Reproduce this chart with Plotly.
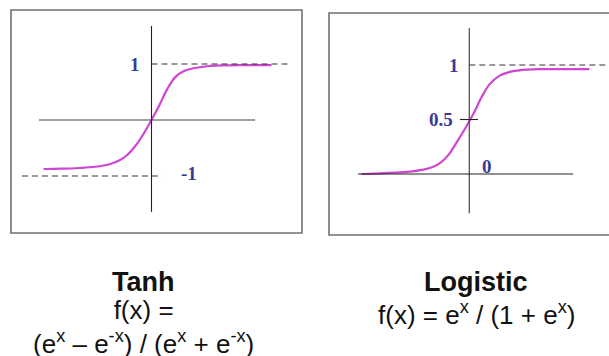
import plotly.graph_objects as go

W, H = 609, 356

# ---- data ----
tanh_x = [-5.4, -4.5, -3.6, -2.8, -2.1, -1.6, -1.2, -0.8, -0.4, 0.0, 0.4, 0.8, 1.2, 1.6, 2.1, 2.8, 3.6, 4.5, 6.0]
tanh_y = [-0.875, -0.87, -0.857, -0.835, -0.79, -0.72, -0.62, -0.46, -0.25, 0.0, 0.27, 0.56, 0.77, 0.87,
          0.925, 0.96, 0.975, 0.98, 0.98]

logi_x = [-5.4, -4.2, -3.1, -2.3, -1.8, -1.4, -1.0, -0.6, -0.2, 0.2, 0.6, 1.0, 1.5, 2.0, 2.7, 3.5, 4.4, 6.0]
logi_y = [0.0, 0.008, 0.02, 0.04, 0.067, 0.11, 0.185, 0.3, 0.42, 0.55, 0.7, 0.82, 0.9, 0.935, 0.955,
          0.962, 0.963, 0.963]

tanh_ticks = [1, -1]
tanh_tick_labels = ["1", "-1"]
logi_ticks = [1, 0.5, 0]
logi_tick_labels = ["1", "0.5", "0"]

titles = ["Tanh", "Logistic"]
formulas = [
    "f(x) =<br>(e<sup>x</sup> \u2013 e<sup>-x</sup>) / (e<sup>x</sup> + e<sup>-x</sup>)",
    "f(x) = e<sup>x</sup> / (1 + e<sup>x</sup>)",
]

CURVE = "#d046d4"
LABEL = "#3a3a96"

fig = go.Figure()
fig.add_trace(go.Scatter(x=tanh_x, y=tanh_y, mode="lines", line=dict(color=CURVE, width=2.2, shape="spline"),
                         xaxis="x", yaxis="y", hoverinfo="skip"))
fig.add_trace(go.Scatter(x=logi_x, y=logi_y, mode="lines", line=dict(color=CURVE, width=2.2, shape="spline"),
                         xaxis="x2", yaxis="y2", hoverinfo="skip"))

ax = dict(visible=False, showgrid=False, zeroline=False, domain=[0, 1], fixedrange=True)
fig.update_layout(
    width=W, height=H, margin=dict(l=0, r=0, t=0, b=0),
    paper_bgcolor="white", plot_bgcolor="rgba(0,0,0,0)", showlegend=False,
    xaxis=dict(ax, range=[-151.5 / 20, (W - 151.5) / 20]),
    yaxis=dict(ax, range=[(120 - H) / 56, 120 / 56]),
    xaxis2=dict(ax, range=[-469.3 / 20, (W - 469.3) / 20], anchor="y2"),
    yaxis2=dict(ax, range=[(174 - H) / 109, 174 / 109], anchor="x2"),
)

shapes = []
# boxes (paper coordinates)
def box(x0, x1, y0, y1):
    return dict(type="rect", xref="paper", yref="paper",
                x0=x0 / W, x1=x1 / W, y0=1 - y1 / H, y1=1 - y0 / H,
                line=dict(color="#707070", width=1.6))
shapes.append(box(11, 302, 10, 233))
shapes.append(box(329, 615, 13, 235))

solid = dict(color="#222222", width=1.1)
dash = dict(color="#333333", width=1.1, dash="6px,4px")
# tanh axes
shapes += [
    dict(type="line", xref="x", yref="y", x0=0, x1=0, y0=1.68, y1=-1.64, line=solid),
    dict(type="line", xref="x", yref="y", x0=-5.63, x1=5.18, y0=0, y1=0, line=dict(color="#444444", width=1)),
    dict(type="line", xref="x", yref="y", x0=0, x1=6.93, y0=tanh_ticks[0], y1=tanh_ticks[0], line=dash),
    dict(type="line", xref="x", yref="y", x0=-6.48, x1=0.53, y0=tanh_ticks[1], y1=tanh_ticks[1], line=dash),
]
# logistic axes
shapes += [
    dict(type="line", xref="x2", yref="y2", x0=0, x1=0, y0=1.34, y1=-0.36, line=dict(color="#555555", width=1.3)),
    dict(type="line", xref="x2", yref="y2", x0=-5.57, x1=5.19, y0=0, y1=0, line=solid),
    dict(type="line", xref="x2", yref="y2", x0=0, x1=7.2, y0=logi_ticks[0], y1=logi_ticks[0], line=dash),
    dict(type="line", xref="x2", yref="y2", x0=-0.47, x1=0.44, y0=logi_ticks[1], y1=logi_ticks[1], line=solid),
]
fig.update_layout(shapes=shapes)

lab_font = dict(family="Liberation Serif", size=19, color=LABEL)
ann = [
    dict(xref="x", yref="y", x=-0.83, y=tanh_ticks[0], text="<b>%s</b>" % tanh_tick_labels[0]),
    dict(xref="x", yref="y", x=1.85, y=-0.96, text="<b>%s</b>" % tanh_tick_labels[1]),
    dict(xref="x2", yref="y2", x=-0.77, y=logi_ticks[0], text="<b>%s</b>" % logi_tick_labels[0]),
    dict(xref="x2", yref="y2", x=-1.4, y=logi_ticks[1], text="<b>%s</b>" % logi_tick_labels[1]),
    dict(xref="x2", yref="y2", x=0.89, y=0.07, text="<b>%s</b>" % logi_tick_labels[2]),
]
for a in ann:
    a.update(showarrow=False, font=lab_font, xanchor="center", yanchor="middle")

txt_font = dict(family="Liberation Sans", size=26, color="#111111")
ann += [
    dict(xref="paper", yref="paper", x=143 / W, y=1 - 282 / H, text="<b>%s</b>" % titles[0],
         font=dict(txt_font, size=27), showarrow=False, xanchor="center", yanchor="middle"),
    dict(xref="paper", yref="paper", x=143 / W, y=1 - 327 / H, text=formulas[0],
         font=txt_font, showarrow=False, xanchor="center", yanchor="middle", align="center"),
    dict(xref="paper", yref="paper", x=476 / W, y=1 - 282 / H, text="<b>%s</b>" % titles[1],
         font=dict(txt_font, size=27), showarrow=False, xanchor="center", yanchor="middle"),
    dict(xref="paper", yref="paper", x=476 / W, y=1 - 313 / H, text=formulas[1],
         font=txt_font, showarrow=False, xanchor="center", yanchor="middle"),
]
fig.update_layout(annotations=ann)

fig.write_html("out.html", config=dict(displayModeBar=False),
               post_script="document.body.style.margin='0';document.body.style.overflow='hidden';")
